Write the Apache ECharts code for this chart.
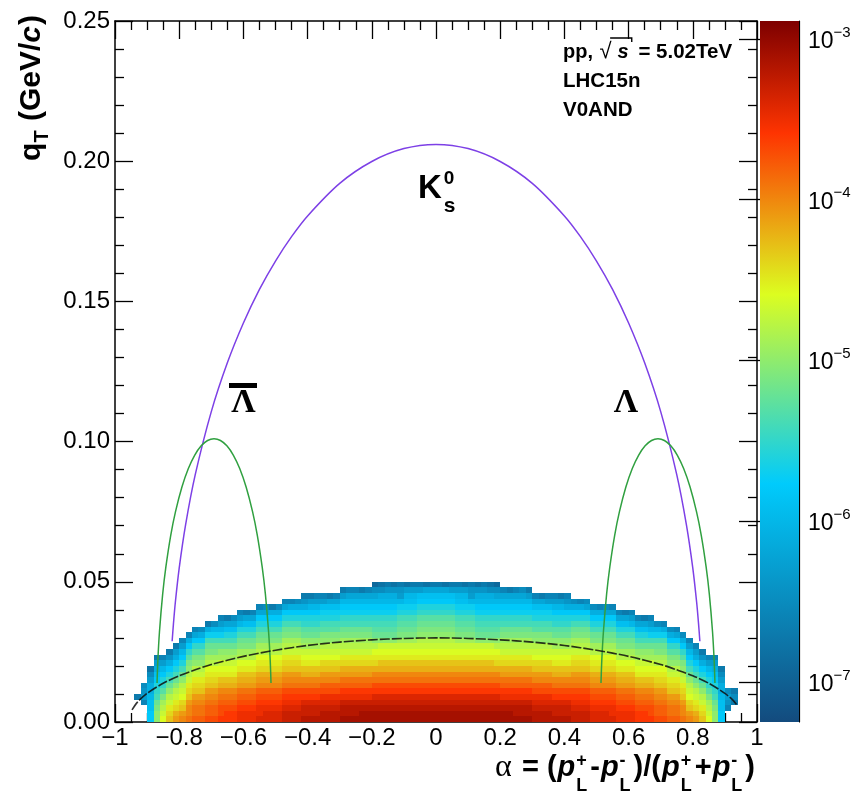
<!DOCTYPE html>
<html>
<head>
<meta charset="utf-8">
<script src="https://cdn.jsdelivr.net/npm/echarts@6.0.0/dist/echarts.min.js"></script>
<style>
  html, body { margin: 0; padding: 0; background: #fff; }
  #chart { width: 866px; height: 792px; }
</style>
</head>
<body>
<div id="chart"></div>
<script>
// ---------------- data ----------------
// 2D histogram binning: alpha bins of 0.02 starting at -1, qT bins of 0.002 starting at 0
const ALPHA_START = -1;
const ALPHA_BIN = 0.02;
const QT_BIN = 0.002;
// each character of a column string is one qT bin (bottom to top); '.' = empty bin
// level index k  ->  log10(entries) = LOG_LEVEL0 + k * LOG_LEVEL_STEP
const LEVEL_CHARS = '0123456789abcdefghijklmnopqrstuvwxyzABCDEFGH';
const LOG_LEVEL0 = -7.3;
const LOG_LEVEL_STEP = 0.1;

// one string per alpha bin, from alpha = -1 (left) to alpha = +1 (right)
const densityColumns = [
  '', '', '',
  '....6',
  '...7a98',
  'ffeedcca85',
  'nnmljihfeca6',
  'rqpomkihfda7',
  'utsqpnljhfc96',
  'wvtsqpnljhfca6',
  'xwutrqpnljhfda7',
  'yxxwutsqpnmkifc7',
  'zyyxwutsqpnmkifb7',
  'zyyxwutsqpnmkifc8',
  'Azzyxwutsrpomljgc6',
  'Azzyxwutsrpomljgd8',
  'BAAzyxvusrqonljgda7',
  'BBAzyxvusrqonljheb6',
  'BBAzyxvusrqonljheb8',
  'CCBAzywvusrpomljhda7',
  'CCBAzywvusrpomljheb6',
  'CCBAzywvusrpomljheb7',
  'DCCBAzxwvtsrpomljhfb7',
  'DDCBAzxwvtsrpomljhfb8',
  'DDCBAzxwvtsrpomljhfc6',
  'DDCBAzxwvtsrpomljhfc8',
  'EEDCBAyxwutsqpomljhfb7',
  'EEDCBAyxwutsqpomljhfc7',
  'EEDCBAyxwutsqpomljhfc8',
  'FEEDBAyxvusrqonlkihfc96',
  'FEEDBAyxvusrqonlkihfda6',
  'FEEDBAyxvusrqonlkihfda7',
  'FFEDCAzxwutrqpnmkjhgea7',
  'FFEDCAzxwutrqpnmkjhgeb6',
  'FFEDCAzxwutrqpnmkjhgeb7',
  'GFFECBzywvtsqpomljigfda6',
  'GFFECBzywvtsqpomljigfdb7',
  'GFFECBzywvtsqpomljigfdb7',
  'GGFECBzywvtsqpomljigfdb6',
  'GGFECBzywvtsqpomljigfdb7',
  'GGFEDBAyxvtsrpnlkjigfdb84',
  'GGFEDBAyxvusrqnlkjigfdc85',
  'GGFEDBAyxvusrqnlkjigfdc96',
  'GGFEDBAyxvusrqnlkjigfdc95',
  'GGFEDBAyxvusrqomlkjhgda96',
  'GGFEDBAyxvusrqomlkjhgeda5',
  'GGFEDBAyxvusrqomlkjhgeda6',
  'GGFEDBAyxvusrqpnmlkihfea6',
  'GGFEDBAyxvusrqpnmlkihfeb5',
  'GGFEDBAyxvusrqpnmlkihfeb6',
  'GGFEDBAyxvusrqpnmlkihfeb6',
  'GGFEDBAyxvusrqpnmlkihfeb5',
  'GGFEDBAyxvusrqpnmlkihfea6',
  'GGFEDBAyxvusrqomlkjhgeda6',
  'GGFEDBAyxvusrqomlkjhgeda5',
  'GGFEDBAyxvusrqomlkjhgda96',
  'GGFEDBAyxvusrqnlkjigfdc95',
  'GGFEDBAyxvusrqnlkjigfdc96',
  'GGFEDBAyxvusrqnlkjigfdc85',
  'GGFEDBAyxvtsrpnlkjigfdb84',
  'GGFECBzywvtsqpomljigfdb7',
  'GGFECBzywvtsqpomljigfdb6',
  'GFFECBzywvtsqpomljigfdb7',
  'GFFECBzywvtsqpomljigfdb8',
  'GFFECBzywvtsqpomljigfda6',
  'FFEDCAzxwutrqpnmkjhgeb7',
  'FFEDCAzxwutrqpnmkjhgeb6',
  'FFEDCAzxwutrqpnmkjhgea7',
  'FEEDBAyxvusrqonlkihfda7',
  'FEEDBAyxvusrqonlkihfda6',
  'FEEDBAyxvusrqonlkihfc97',
  'EEDCBAyxwutsqpomljhfc8',
  'EEDCBAyxwutsqpomljhfc7',
  'EEDCBAyxwutsqpomljhfb8',
  'DDCBAzxwvtsrpomljhfc8',
  'DDCBAzxwvtsrpomljhfc7',
  'DDCBAzxwvtsrpomljhfb8',
  'DCCBAzxwvtsrpomljhfb7',
  'CCBAzywvusrpomljheb7',
  'CCBAzywvusrpomljheb6',
  'CCBAzywvusrpomljhda7',
  'BBAzyxvusrqonljheb7',
  'BBAzyxvusrqonljheb6',
  'BAAzyxvusrqonljgda7',
  'Azzyxwutsrpomljgd8',
  'Azzyxwutsrpomljgc7',
  'zyyxwutsqpnmkifc8',
  'zyyxwutsqpnmkifb7',
  'yxxwutsqpnmkifc8',
  'xwutrqpnljhfda7',
  'wvtsqpnljhfca7',
  'utsqpnljhfc96',
  'rqpomkihfda7',
  'nnmljihfeca7',
  'ffeedcca86',
  '..79a8',
  '...686',
  '', '', ''
];

// Armenteros-Podolanski reference curves (alpha, qT in GeV/c)
const k0sCurve = [
  [-0.822, 0.0288], [-0.818, 0.0349], [-0.812, 0.0427], [-0.800, 0.0549], [-0.780, 0.0704],
  [-0.750, 0.0882], [-0.700, 0.1107], [-0.650, 0.1281], [-0.600, 0.1423], [-0.550, 0.1543],
  [-0.500, 0.1644], [-0.450, 0.1731], [-0.400, 0.1805], [-0.300, 0.1921], [-0.200, 0.1999],
  [-0.100, 0.2045], [0.000, 0.2060], [0.100, 0.2045], [0.200, 0.1999], [0.300, 0.1921],
  [0.400, 0.1805], [0.450, 0.1731], [0.500, 0.1644], [0.550, 0.1543], [0.600, 0.1423],
  [0.650, 0.1281], [0.700, 0.1107], [0.750, 0.0882], [0.780, 0.0704], [0.800, 0.0549],
  [0.812, 0.0427], [0.818, 0.0349], [0.822, 0.0288]
];
const lambdaCurve = [
  [0.5140, 0.0139], [0.5165, 0.0220], [0.5215, 0.0321], [0.5315, 0.0456], [0.5415, 0.0553],
  [0.5565, 0.0665], [0.5715, 0.0750], [0.5915, 0.0838], [0.6115, 0.0904], [0.6315, 0.0952],
  [0.6515, 0.0985], [0.6715, 0.1004], [0.6915, 0.1010], [0.7115, 0.1004], [0.7315, 0.0985],
  [0.7515, 0.0952], [0.7715, 0.0904], [0.7915, 0.0838], [0.8115, 0.0750], [0.8265, 0.0665],
  [0.8415, 0.0553], [0.8515, 0.0456], [0.8615, 0.0321], [0.8665, 0.0220], [0.8690, 0.0139]
];
const antiLambdaCurve = [
  [-0.8690, 0.0139], [-0.8665, 0.0220], [-0.8615, 0.0321], [-0.8515, 0.0456], [-0.8415, 0.0553],
  [-0.8265, 0.0665], [-0.8115, 0.0750], [-0.7915, 0.0838], [-0.7715, 0.0904], [-0.7515, 0.0952],
  [-0.7315, 0.0985], [-0.7115, 0.1004], [-0.6915, 0.1010], [-0.6715, 0.1004], [-0.6515, 0.0985],
  [-0.6315, 0.0952], [-0.6115, 0.0904], [-0.5915, 0.0838], [-0.5715, 0.0750], [-0.5565, 0.0665],
  [-0.5415, 0.0553], [-0.5315, 0.0456], [-0.5215, 0.0321], [-0.5165, 0.0220], [-0.5140, 0.0139]
];
const gammaCurve = [
  [-0.947, 0.0043], [-0.930, 0.0071], [-0.900, 0.0102], [-0.850, 0.0138], [-0.800, 0.0165],
  [-0.750, 0.0186], [-0.700, 0.0205], [-0.600, 0.0234], [-0.500, 0.0256], [-0.400, 0.0273],
  [-0.300, 0.0285], [-0.200, 0.0293], [-0.100, 0.0298], [0.000, 0.0300], [0.100, 0.0298],
  [0.200, 0.0293], [0.300, 0.0285], [0.400, 0.0273], [0.500, 0.0256], [0.600, 0.0234],
  [0.700, 0.0205], [0.750, 0.0186], [0.800, 0.0165], [0.850, 0.0138], [0.900, 0.0102],
  [0.925, 0.0078], [0.940, 0.0056]
];

// colour axis: log10 of the palette ends and the labelled decades
const colorLogRange = [-7.249, -2.888];
const colorDecades = [-7, -6, -5, -4, -3];

// ---------------- helpers ----------------
const PALETTE_STOPS = [
  [0.00, [19, 75, 126]],
  [0.34, [0, 203, 252]],
  [0.61, [220, 253, 32]],
  [0.84, [254, 52, 1]],
  [1.00, [126, 0, 0]]
];
function rgbHex(c) {
  return '#' + c.map(v => Math.round(v).toString(16).padStart(2, '0')).join('');
}
function paletteAt(t) {
  for (let i = 1; i < PALETTE_STOPS.length; i++) {
    const [t1, c1] = PALETTE_STOPS[i];
    const [t0, c0] = PALETTE_STOPS[i - 1];
    if (t <= t1) {
      const u = (t - t0) / (t1 - t0);
      return rgbHex(c0.map((v, j) => v + (c1[j] - v) * u));
    }
  }
  return rgbHex(PALETTE_STOPS[PALETTE_STOPS.length - 1][1]);
}
const paletteSamples = Array.from({ length: 121 }, (_, i) => paletteAt(i / 120));

// histogram cells: [alphaLow, qtLow, alphaHigh, qtHigh, log10(entries)]
const cells = [];
densityColumns.forEach((col, c) => {
  const a0 = ALPHA_START + c * ALPHA_BIN;
  for (let r = 0; r < col.length; r++) {
    const ch = col[r];
    if (ch === '.') continue;
    const k = LEVEL_CHARS.indexOf(ch);
    cells.push([a0, r * QT_BIN, a0 + ALPHA_BIN, (r + 1) * QT_BIN, LOG_LEVEL0 + k * LOG_LEVEL_STEP]);
  }
});

// log-scale minor ticks of the colour axis
const colorMinor = [];
for (let e = -8; e <= -3; e++) {
  for (let m = 2; m <= 9; m++) {
    const v = e + Math.log10(m);
    if (v > colorLogRange[0] && v < colorLogRange[1]) colorMinor.push(v);
  }
}

// text layout with sub/superscripts
const SANS = '"Liberation Sans", Arial, Helvetica, sans-serif';
const SERIF = '"Liberation Serif", "Times New Roman", serif';
const measureCtx = document.createElement('canvas').getContext('2d');
function fontOf(p) {
  return (p.style || 'normal') + ' ' + (p.weight || 'normal') + ' ' + p.size + 'px ' + (p.family || SANS);
}
function layoutPieces(pieces, alignRight) {
  let x = 0, prevX = 0;
  const placed = [];
  pieces.forEach(p => {
    measureCtx.font = fontOf(p);
    const w = measureCtx.measureText(p.text).width;
    let px;
    if (p.stack) {
      px = prevX;
      x = Math.max(x, px + w);
    } else {
      px = x + (p.dx || 0);
      prevX = px;
      x = px + w;
    }
    placed.push({ p, px, w });
  });
  const shift = alignRight ? -x : 0;
  const elems = placed.map(({ p, px }) => ({
    type: 'text',
    x: px + shift,
    y: p.dy || 0,
    style: {
      text: p.text,
      font: fontOf(p),
      fill: '#000',
      align: 'left', textAlign: 'left',
      verticalAlign: 'middle', textVerticalAlign: 'middle'
    }
  }));
  return { elems, width: x, placed, shift };
}

const B = { weight: 'bold' };
// y-axis title (rotated, ends at the top of the axis)
const yTitle = layoutPieces([
  { text: 'q', size: 30, ...B },
  { text: 'T', size: 20, ...B, dy: 10 },
  { text: ' (GeV/', size: 30, ...B, dx: 1 },
  { text: 'c', size: 30, ...B, style: 'italic' },
  { text: ')', size: 30, ...B, dx: 1 }
], true);

// x-axis title
const sup = (t) => ({ text: t, size: 18, ...B, dy: -7, dx: 1 });
const sub = (t) => ({ text: t, size: 18, ...B, dy: 18, stack: true });
const pIt = (dx) => ({ text: 'p', size: 29, weight: 'bold', style: 'italic', dx: dx || 0 });
const xTitle = layoutPieces([
  { text: '\u03b1', size: 32, family: SERIF },
  { text: ' = (', size: 29, ...B, dx: 2 },
  pIt(1), sup('+'), sub('L'),
  { text: '-', size: 29, ...B, dx: 3 },
  pIt(1), sup('-'), sub('L'),
  { text: ')/(', size: 29, ...B, dx: 3 },
  pIt(1), sup('+'), sub('L'),
  { text: '+', size: 29, ...B, dx: 3 },
  pIt(1), sup('-'), sub('L'),
  { text: ')', size: 29, ...B, dx: 3 }
], true);

// collision system annotation
const row1 = layoutPieces([
  { text: 'pp, ', size: 20, ...B },
  { text: '\u221a', size: 22, dx: 1 },
  { text: 's', size: 20, weight: 'bold', style: 'italic', dx: 6 },
  { text: ' = 5.02TeV', size: 20.5, ...B, dx: 4 }
], false);
const sqrtPiece = row1.placed[1], sPiece = row1.placed[2];
const row2 = layoutPieces([{ text: 'LHC15n', size: 20.5, ...B }], false);
const row3 = layoutPieces([{ text: 'V0AND', size: 20.5, ...B }], false);

// K0s label
const k0Label = layoutPieces([
  { text: 'K', size: 33, ...B },
  { text: '0', size: 19, ...B, dy: -10, dx: 2 },
  { text: 's', size: 21, ...B, dy: 17, stack: true }
], false);

// ---------------- chart ----------------
const chart = echarts.init(document.getElementById('chart'), null, { renderer: 'canvas' });

const black = '#000';
const tickStyle = { color: black, width: 1.3 };
const frameStyle = { color: black, width: 1.5 };
const xLabel = v => {
  if (Math.abs(v) < 1e-9) return '0';
  const s = Math.abs(v) > 0.999 ? '1' : Math.abs(v).toFixed(1);
  return (v < 0 ? '\u2212' : '') + s;
};
const labelText = (x, y, ch, font) => ({
  type: 'text', x, y,
  style: {
    text: ch, font, fill: '#000',
    align: 'center', textAlign: 'center', verticalAlign: 'middle', textVerticalAlign: 'middle'
  }
});

const option = {
  animation: false,
  backgroundColor: '#fff',
  grid: [
    { left: 115, top: 21, width: 642, height: 701 },
    { left: 760, top: 21, width: 39, height: 701 }
  ],
  xAxis: [
    {
      gridIndex: 0, type: 'value', min: -1, max: 1, interval: 0.2, position: 'bottom',
      axisLine: { onZero: false, lineStyle: frameStyle },
      axisTick: { inside: true, length: 18, lineStyle: tickStyle },
      minorTick: { show: true, splitNumber: 4, length: 9, lineStyle: tickStyle },
      splitLine: { show: false }, minorSplitLine: { show: false },
      axisLabel: { fontFamily: SANS, fontSize: 24, color: black, margin: 4, formatter: xLabel }
    },
    {
      gridIndex: 0, type: 'value', min: -1, max: 1, interval: 0.2, position: 'top',
      axisLine: { onZero: false, lineStyle: frameStyle },
      axisTick: { inside: true, length: 18, lineStyle: tickStyle },
      minorTick: { show: true, splitNumber: 4, length: 9, lineStyle: tickStyle },
      splitLine: { show: false }, axisLabel: { show: false }
    },
    { gridIndex: 1, type: 'value', min: 0, max: 1, show: false }
  ],
  yAxis: [
    {
      gridIndex: 0, type: 'value', min: 0, max: 0.25, interval: 0.05, position: 'left',
      axisLine: { onZero: false, lineStyle: frameStyle },
      axisTick: { inside: true, length: 18, lineStyle: tickStyle },
      minorTick: { show: true, splitNumber: 5, length: 9, lineStyle: tickStyle },
      splitLine: { show: false },
      axisLabel: { fontFamily: SANS, fontSize: 24, color: black, margin: 5, formatter: v => v.toFixed(2) }
    },
    {
      gridIndex: 0, type: 'value', min: 0, max: 0.25, interval: 0.05, position: 'right',
      axisLine: { onZero: false, lineStyle: frameStyle },
      axisTick: { inside: true, length: 18, lineStyle: tickStyle },
      minorTick: { show: true, splitNumber: 5, length: 9, lineStyle: tickStyle },
      splitLine: { show: false }, axisLabel: { show: false }
    },
    {
      gridIndex: 1, type: 'value', min: colorLogRange[0], max: colorLogRange[1], position: 'right',
      axisLine: { onZero: false, lineStyle: { color: black, width: 1.2 } },
      axisTick: { inside: true, length: 10, lineStyle: tickStyle, customValues: colorMinor },
      splitLine: { show: false },
      axisLabel: {
        margin: 9,
        customValues: colorDecades,
        formatter: v => '{b|10}{s|\u2212' + Math.abs(Math.round(v)) + '}',
        rich: {
          b: { fontFamily: SANS, fontSize: 23, color: black, lineHeight: 28, verticalAlign: 'bottom' },
          s: { fontFamily: SANS, fontSize: 15, color: black, lineHeight: 15, verticalAlign: 'top' }
        }
      }
    },
    {
      gridIndex: 1, type: 'value', min: colorLogRange[0], max: colorLogRange[1], position: 'right',
      axisLine: { show: false },
      axisTick: { inside: true, length: 21, lineStyle: tickStyle, customValues: colorDecades },
      splitLine: { show: false }, axisLabel: { show: false }
    }
  ],
  visualMap: {
    type: 'continuous', show: false, seriesIndex: 0, dimension: 4,
    min: colorLogRange[0], max: colorLogRange[1],
    inRange: { color: paletteSamples }
  },
  series: [
    {
      name: 'entries', type: 'custom', xAxisIndex: 0, yAxisIndex: 0, z: 1,
      data: cells,
      encode: { x: [0, 2], y: [1, 3] },
      renderItem: (params, api) => {
        const p0 = api.coord([api.value(0), api.value(1)]);
        const p1 = api.coord([api.value(2), api.value(3)]);
        const x0 = Math.round(p0[0]), x1 = Math.round(p1[0]);
        const y0 = Math.round(p0[1]), y1 = Math.round(p1[1]);
        return {
          type: 'rect',
          shape: { x: x0, y: y1, width: x1 - x0, height: y0 - y1 },
          style: { fill: api.visual('color') }
        };
      }
    },
    {
      name: 'palette', type: 'custom', xAxisIndex: 2, yAxisIndex: 2, z: 1,
      data: [[0, colorLogRange[0], 1, colorLogRange[1]]],
      renderItem: (params, api) => {
        const p0 = api.coord([api.value(0), api.value(1)]);
        const p1 = api.coord([api.value(2), api.value(3)]);
        return {
          type: 'rect',
          shape: { x: p0[0], y: p1[1], width: p1[0] - p0[0], height: p0[1] - p1[1] },
          style: {
            fill: new echarts.graphic.LinearGradient(0, 1, 0, 0,
              PALETTE_STOPS.map(([o, c]) => ({ offset: o, color: rgbHex(c) })))
          }
        };
      }
    },
    {
      name: 'K0s', type: 'line', xAxisIndex: 0, yAxisIndex: 0, z: 3,
      data: k0sCurve, symbol: 'none', smooth: 0.3,
      lineStyle: { color: '#7d40e6', width: 1.5 }
    },
    {
      name: 'Lambda', type: 'line', xAxisIndex: 0, yAxisIndex: 0, z: 3,
      data: lambdaCurve, symbol: 'none', smooth: 0.3,
      lineStyle: { color: '#30a040', width: 1.5 }
    },
    {
      name: 'AntiLambda', type: 'line', xAxisIndex: 0, yAxisIndex: 0, z: 3,
      data: antiLambdaCurve, symbol: 'none', smooth: 0.3,
      lineStyle: { color: '#30a040', width: 1.5 }
    },
    {
      name: 'gamma', type: 'line', xAxisIndex: 0, yAxisIndex: 0, z: 3,
      data: gammaCurve, symbol: 'none', smooth: 0.3,
      lineStyle: { color: 'rgba(15,15,15,0.85)', width: 1.6, type: [10, 2] }
    }
  ],
  graphic: [
    // y title
    { type: 'group', x: 32, y: 15, rotation: Math.PI / 2, children: yTitle.elems },
    // x title
    { type: 'group', x: 755, y: 768, children: xTitle.elems },
    // collision system annotation
    {
      type: 'group', x: 563, y: 52,
      children: row1.elems.concat([
        {
          type: 'polyline',
          shape: {
            points: [
              [sqrtPiece.px + sqrtPiece.w - 1.5, -14],
              [sPiece.px + sPiece.w + 3, -14],
              [sPiece.px + sPiece.w + 3, -10]
            ]
          },
          style: { stroke: '#000', lineWidth: 1.4, fill: null }
        }
      ])
    },
    { type: 'group', x: 563, y: 81, children: row2.elems },
    { type: 'group', x: 563, y: 110, children: row3.elems },
    // particle labels
    { type: 'group', x: 418, y: 189, children: k0Label.elems },
    labelText(243.5, 403, '\u039b', 'bold 34px ' + SERIF),
    { type: 'rect', shape: { x: 229, y: 383, width: 28, height: 5 }, style: { fill: '#000' } },
    labelText(626, 403, '\u039b', 'bold 34px ' + SERIF),
    labelText(437, 648, '\u03b3', 'normal 38px ' + SERIF)
  ]
};

chart.setOption(option);
</script>
</body>
</html>
